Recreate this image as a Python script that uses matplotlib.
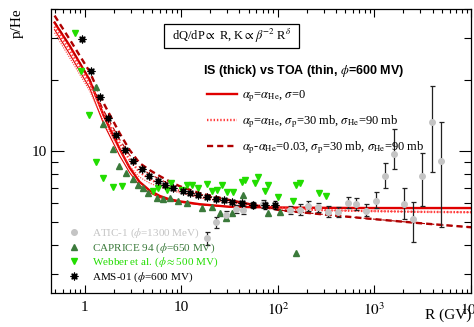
import matplotlib
matplotlib.use('Agg')
import matplotlib.pyplot as plt
from matplotlib.ticker import FixedLocator, FixedFormatter, NullFormatter, LogLocator
from matplotlib.patches import Rectangle

plt.rcParams['font.family'] = ['Liberation Serif', 'DejaVu Serif']
plt.rcParams['mathtext.fontset'] = 'stix'

# ---------------- data ----------------
# model curves: rigidity grid (GV)
r_model = [0.49, 0.7, 1.13, 1.57, 2.31, 2.93, 3.71, 4.72, 6.0, 7.5, 9.6, 15.5, 32, 105, 330, 1000, 3000, 10000]
# alpha_p = alpha_He, sigma = 0
solid_is = [35.0, 28.0, 20.0, 14.2, 10.2, 8.5, 7.4, 6.8, 6.45, 6.25, 6.12, 5.95, 5.80, 5.76, 5.74, 5.73, 5.73, 5.73]
solid_toa = [32.7, 25.8, 18.5, 13.1, 9.55, 8.1, 7.15, 6.65, 6.35, 6.18, 6.07, 5.92, 5.79, 5.76, 5.74, 5.73, 5.73, 5.73]
# alpha_p = alpha_He, sigma_p = 30 mb, sigma_He = 90 mb
dot_is = [33.7, 26.8, 19.3, 14.4, 10.8, 9.16, 8.14, 7.6, 7.24, 7.0, 6.78, 6.4, 6.06, 5.72, 5.60, 5.56, 5.52, 5.50]
dot_toa = [31.7, 24.9, 18.0, 13.4, 10.1, 8.63, 7.75, 7.31, 7.03, 6.85, 6.65, 6.33, 6.05, 5.72, 5.60, 5.56, 5.52, 5.50]
# alpha_p - alpha_He = 0.03, sigma_p = 30 mb, sigma_He = 90 mb
dash_is = [37.5, 29.8, 21.7, 16.0, 11.9, 10.1, 8.89, 8.30, 7.83, 7.45, 7.10, 6.63, 6.19, 5.61, 5.36, 5.14, 4.94, 4.75]
dash_toa = [35.4, 28.0, 20.2, 14.9, 11.2, 9.61, 8.55, 7.98, 7.6, 7.25, 6.96, 6.56, 6.17, 5.61, 5.36, 5.14, 4.94, 4.75]

# ATIC-1
atic_r = [18.4, 22.8, 28.9, 36.7, 43.4, 69.9, 133, 169, 205, 260, 330, 419, 531, 643, 816, 1037, 1285, 1592, 2022, 2505, 3105, 3945, 4890]
atic_v = [4.27, 4.99, 5.35, 5.66, 5.61, 5.94, 5.61, 5.61, 5.83, 5.78, 5.50, 5.50, 6.01, 5.94, 5.56, 6.12, 7.83, 9.71, 5.94, 5.14, 7.83, 13.3, 9.07]
atic_lo = [3.98, 4.70, 5.08, 5.45, 5.40, 5.72, 5.40, 5.35, 5.56, 5.50, 5.24, 5.24, 5.72, 5.61, 5.30, 5.72, 6.96, 8.38, 5.14, 4.10, 5.83, 8.15, 4.75]
atic_hi = [4.52, 5.24, 5.56, 5.89, 5.83, 6.18, 5.83, 5.94, 6.12, 6.01, 5.83, 5.78, 6.37, 6.31, 5.94, 6.70, 8.89, 12.4, 6.96, 6.07, 9.80, 18.9, 13.3]

# CAPRICE 94
cap_r = [1.33, 1.54, 1.95, 2.30, 2.70, 3.14, 3.54, 3.99, 4.49, 5.57, 6.42, 7.6, 9.2, 11.6, 16.3, 21.1, 25.0, 28.9, 34.0, 43.3, 78.6, 105, 153]
cap_v = [18.7, 13.0, 10.2, 8.63, 8.06, 7.60, 7.16, 6.96, 6.63, 6.31, 6.25, 6.31, 6.13, 6.01, 5.72, 5.78, 5.45, 5.19, 5.45, 6.50, 5.45, 5.50, 3.68]

# Webber et al.
web_r = [0.788, 0.909, 1.10, 1.30, 1.57, 1.95, 2.42, 5.06, 5.71, 7.08, 7.78, 10.1, 11.4, 13.1, 15.1, 18.4, 21.1, 23.3, 26.3, 29.6, 34.2,
         42.4, 45.5, 57.6, 61.8, 73.0, 80.1, 99.9, 143, 153, 168, 265, 312]
web_v = [31.5, 21.9, 14.2, 8.98, 7.67, 7.03, 7.10, 6.76, 6.96, 6.83, 7.31, 6.83, 7.16, 7.16, 6.96, 7.24, 6.76, 6.83, 7.16, 6.70, 6.70,
         7.38, 7.53, 7.31, 7.74, 6.76, 7.16, 6.37, 6.13, 7.16, 7.31, 6.63, 6.44]

# AMS-01
ams_r = [0.953, 1.154, 1.43, 1.73, 2.10, 2.60, 3.14, 3.90, 4.60, 5.70, 6.88, 8.33, 10.4, 12.5, 15.1, 18.4, 22.8, 27.5, 33.5, 42.4, 55, 73, 93]
ams_v = [29.7, 21.9, 17.0, 13.8, 11.7, 10.1, 9.07, 8.38, 7.83, 7.45, 7.16, 6.96, 6.76, 6.63, 6.50, 6.37, 6.25, 6.19, 6.07, 6.00, 5.89, 5.89, 5.89]
ams_relerr = [0.01, 0.01, 0.01, 0.01, 0.01, 0.01, 0.01, 0.01, 0.01, 0.01, 0.01, 0.01, 0.01, 0.01, 0.01, 0.012, 0.014, 0.016, 0.02, 0.025, 0.03, 0.035, 0.04]

x_major = [1, 10, 100, 1000, 10000]
x_labels = ['1', '10', '$10^{2}$', '$10^{3}$', '$10^{4}$']
y_major = [10]
y_labels = ['10']
y_minor = [3, 4, 5, 6, 7, 8, 9, 20, 30, 40]

# ---------------- colours ----------------
c_solid = '#e00000'
c_dot = '#ff3b3b'
c_dash = '#b00000'
c_atic = '#c4c4c4'
c_cap = '#3b7a3b'
c_web = '#22dd00'

fig = plt.figure(figsize=(4.74, 3.27), dpi=100)
ax = fig.add_axes([51/474, 1-293/327, 420/474, 284/327])
ax.set_xscale('log')
ax.set_yscale('log')

thick, thin = 1.7, 0.8
l_solid, = ax.plot(r_model, solid_is, color=c_solid, lw=thick, zorder=2)
ax.plot(r_model, solid_toa, color=c_solid, lw=thin, zorder=2)
l_dot, = ax.plot(r_model, dot_is, color=c_dot, lw=thick, ls=(0, (0.6, 0.8)), zorder=2)
ax.plot(r_model, dot_toa, color=c_dot, lw=thin, ls=(0, (1, 1.2)), zorder=2)
l_dash, = ax.plot(r_model, dash_is, color=c_dash, lw=thick, ls=(0, (2.6, 1.7)), zorder=2)
ax.plot(r_model, dash_toa, color=c_dash, lw=thin, ls=(0, (5, 3.4)), zorder=2)

yerr_atic = [[v - lo for v, lo in zip(atic_v, atic_lo)], [hi - v for v, hi in zip(atic_v, atic_hi)]]
eb = ax.errorbar(atic_r, atic_v, yerr=yerr_atic, fmt='o', ms=4.0, mfc=c_atic, mec=c_atic,
                 ecolor='#222222', elinewidth=0.9, capsize=1.8, capthick=0.9, zorder=3)
h_cap, = ax.plot(cap_r, cap_v, '^', ms=4.0, color=c_cap, ls='none', zorder=3)
h_web, = ax.plot(web_r, web_v, 'v', ms=4.2, color=c_web, ls='none', zorder=3)
yerr_ams = [v * e for v, e in zip(ams_v, ams_relerr)]
ax.errorbar(ams_r, ams_v, yerr=yerr_ams, fmt='none', ecolor='black', elinewidth=0.8, capsize=1.5, zorder=3)
h_ams1, = ax.plot(ams_r, ams_v, 'o', ms=3.2, color='black', ls='none', zorder=4)
h_ams2, = ax.plot(ams_r, ams_v, marker=(8, 2, 0), ms=5.6, color='black', mew=0.8, ls='none', zorder=4)

ax.set_xlim(0.45, 1e4)
ax.set_ylim(2.5, 40)

ax.xaxis.set_major_locator(FixedLocator(x_major))
ax.xaxis.set_major_formatter(FixedFormatter(x_labels))
ax.xaxis.set_minor_locator(LogLocator(base=10, subs=range(2, 10), numticks=20))
ax.xaxis.set_minor_formatter(NullFormatter())
ax.yaxis.set_major_locator(FixedLocator(y_major))
ax.yaxis.set_major_formatter(FixedFormatter(y_labels))
ax.yaxis.set_minor_locator(FixedLocator(y_minor))
ax.yaxis.set_minor_formatter(NullFormatter())

ax.tick_params(which='both', direction='in', top=True, right=True, width=0.8, labelsize=11)
ax.tick_params(axis='x', which='major', length=6, pad=6)
ax.tick_params(axis='x', which='minor', length=3)
ax.tick_params(axis='y', which='major', length=9, pad=3)
ax.tick_params(axis='y', which='minor', length=5)
for s in ax.spines.values():
    s.set_linewidth(0.9)

fig.text(17/474, 1-23/327, 'p/He', rotation=90, ha='center', va='center', fontsize=11)
fig.text(471/474, 1-315/327, 'R (GV)', ha='right', va='center', fontsize=11)

# formula box
ax.add_patch(Rectangle((0.269, 0.863), 0.321, 0.0845, transform=ax.transAxes, fill=False, ec='black', lw=0.9, zorder=5))
ax.text(0.431, 0.905, r'dQ/dP$\propto$ R, K$\propto\beta^{-2}$ R$^{\delta}$', transform=ax.transAxes,
        ha='center', va='center', fontsize=9, zorder=5)
ax.text(0.362, 0.782, r'IS (thick) vs TOA (thin, $\phi$=600 MV)', transform=ax.transAxes,
        ha='left', va='center', fontsize=9, fontfamily='Liberation Sans', fontweight='bold')

leg1 = ax.legend([l_solid, l_dot, l_dash],
                 [r'$\alpha_{\rm p}$=$\alpha_{\rm He}$, $\sigma$=0',
                  r'$\alpha_{\rm p}$=$\alpha_{\rm He}$, $\sigma_{\rm p}$=30 mb, $\sigma_{\rm He}$=90 mb',
                  r'$\alpha_{\rm p}$-$\alpha_{\rm He}$=0.03, $\sigma_{\rm p}$=30 mb, $\sigma_{\rm He}$=90 mb'],
                 loc='upper left', bbox_to_anchor=(0.371, 0.72), borderaxespad=0, borderpad=0,
                 frameon=False, fontsize=9, handlelength=2.4, handletextpad=0.45, labelspacing=0.75)
ax.add_artist(leg1)

leg2 = ax.legend([eb.lines[0], h_cap, h_web, (h_ams1, h_ams2)],
                 [r'ATIC-1 ($\phi$=1300 MeV)', r'CAPRICE 94 ($\phi$=650 MV)',
                  r'Webber et al. ($\phi$$\approx$500 MV)', r'AMS-01 ($\phi$=600 MV)'],
                 loc='upper left', bbox_to_anchor=(0.0417, 0.234), borderaxespad=0, borderpad=0,
                 frameon=False, fontsize=8, handlelength=1.0, handletextpad=1.1, labelspacing=0.1)
for t, c in zip(leg2.get_texts(), [c_atic, c_cap, c_web, 'black']):
    t.set_color(c)

fig.savefig('out.png', dpi=100)
